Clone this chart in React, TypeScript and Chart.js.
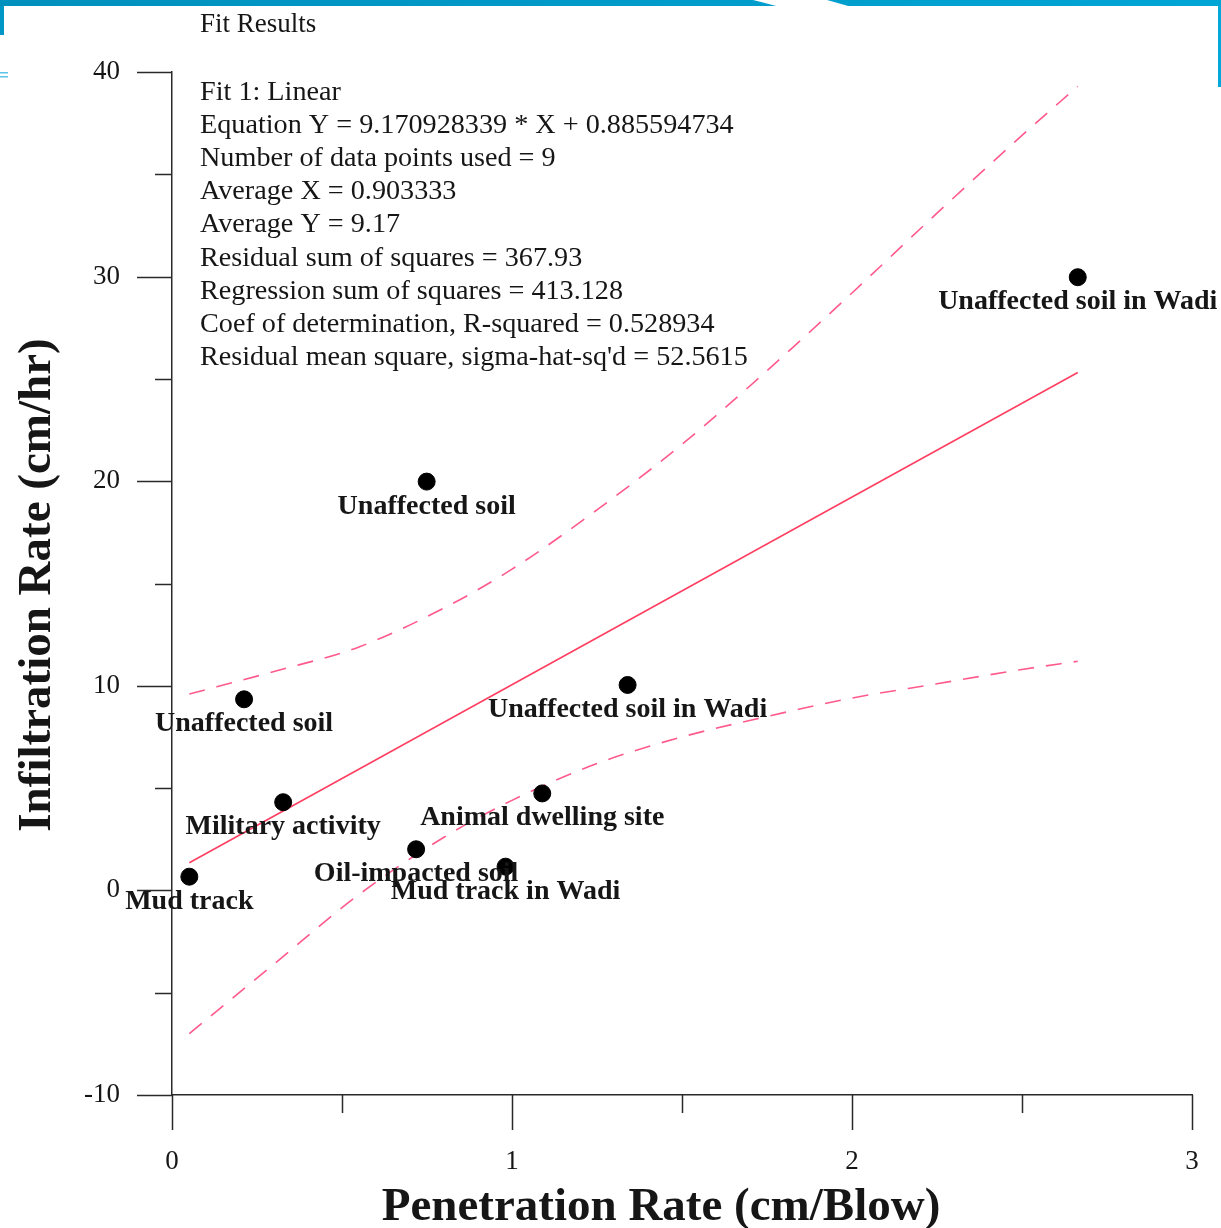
import React, { useEffect, useRef } from "react";
import { Chart, registerables } from "chart.js";

Chart.register(...registerables);

// ---- data ----
const pointX = [0.051, 0.212, 0.327, 0.718, 0.981, 1.089, 0.749, 1.34, 2.664];
const pointY = [0.67, 9.34, 4.31, 2.01, 1.16, 4.74, 19.98, 10.04, 29.97];
const pointLabels = [
  "Mud track",
  "Unaffected soil",
  "Military activity",
  "Oil-impacted soil",
  "Mud track in Wadi",
  "Animal dwelling site",
  "Unaffected soil",
  "Unaffected soil in Wadi",
  "Unaffected soil in Wadi",
];

const fitX = [0.051, 2.664];
const fitY = [1.35, 25.31];

const bandX = [0.051, 0.3, 0.55, 0.8, 1.0, 1.25, 1.5, 1.75, 2.0, 2.25, 2.5, 2.664];
const upperY = [9.6, 10.7, 11.9, 13.8, 15.7, 18.6, 21.8, 25.4, 29.2, 33.1, 36.9, 39.3];
const lowerY = [-7.0, -3.6, -0.2, 2.6, 4.4, 6.2, 7.5, 8.5, 9.4, 10.1, 10.8, 11.2];

const xTickValues = [0, 0.5, 1, 1.5, 2, 2.5, 3];
const yTickValues = [-10, -5, 0, 5, 10, 15, 20, 25, 30, 35, 40];

const fitTitle = "Fit Results";
const fitLines = [
  "Fit 1: Linear",
  "Equation Y = 9.170928339 * X + 0.885594734",
  "Number of data points used = 9",
  "Average X = 0.903333",
  "Average Y = 9.17",
  "Residual sum of squares = 367.93",
  "Regression sum of squares = 413.128",
  "Coef of determination, R-squared = 0.528934",
  "Residual mean square, sigma-hat-sq'd = 52.5615",
];

const xTitle = "Penetration Rate (cm/Blow)";
const yTitle = "Infiltration Rate (cm/hr)";

const SERIF = '"Liberation Serif", "Times New Roman", serif';
const INK = "#161616";

function zip(xs: number[], ys: number[]) {
  return xs.map((x, i) => ({ x, y: ys[i] }));
}

const decorPlugin = {
  id: "decor",
  afterDatasetsDraw(chart: any) {
    const ctx = chart.ctx as CanvasRenderingContext2D;
    const meta = chart.getDatasetMeta(0);
    ctx.save();
    ctx.fillStyle = INK;
    ctx.font = `bold 28px ${SERIF}`;
    ctx.textAlign = "center";
    ctx.textBaseline = "alphabetic";
    meta.data.forEach((el: any, i: number) => {
      ctx.fillText(pointLabels[i], el.x, el.y + 32);
    });
    ctx.restore();
  },
  afterDraw(chart: any) {
    const ctx = chart.ctx as CanvasRenderingContext2D;
    const xs = chart.scales.x;
    const ys = chart.scales.y;
    const left = chart.chartArea.left;
    const bottom = chart.chartArea.bottom;
    ctx.save();
    ctx.strokeStyle = "#2a2a2a";
    ctx.lineWidth = 1.5;
    ctx.beginPath();
    yTickValues.forEach((v) => {
      const p = Math.round(ys.getPixelForValue(v)) + 0.5;
      const len = v % 10 === 0 ? 35 : 17;
      ctx.moveTo(left - len, p);
      ctx.lineTo(left, p);
    });
    xTickValues.forEach((v) => {
      const p = Math.round(xs.getPixelForValue(v)) + 0.5;
      const len = Number.isInteger(v) ? 35 : 18;
      ctx.moveTo(p, bottom);
      ctx.lineTo(p, bottom + len);
    });
    ctx.stroke();

    // fit results text
    ctx.fillStyle = INK;
    ctx.textAlign = "left";
    ctx.textBaseline = "alphabetic";
    ctx.font = `27px ${SERIF}`;
    ctx.fillText(fitTitle, 200, 32);
    ctx.font = `28.2px ${SERIF}`;
    fitLines.forEach((t, i) => {
      ctx.fillText(t, 200, 100 + i * 33.1);
    });

    // axis titles
    ctx.font = `bold 47px ${SERIF}`;
    ctx.textAlign = "center";
    ctx.fillText(xTitle, 661, 1220);
    ctx.save();
    ctx.translate(50, 585);
    ctx.rotate(-Math.PI / 2);
    ctx.fillText(yTitle, 0, 0);
    ctx.restore();
    ctx.restore();
  },
};

function ChartCanvas() {
  const ref = useRef<HTMLCanvasElement | null>(null);
  useEffect(() => {
    let chart: Chart | null = null;
    let cancelled = false;
    const build = () => {
      if (cancelled || !ref.current) return;
      chart = new Chart(ref.current, {
        type: "scatter",
        data: {
          datasets: [
            {
              label: "Samples",
              data: zip(pointX, pointY),
              backgroundColor: "#000000",
              borderColor: "#000000",
              pointRadius: 8.5,
              pointHoverRadius: 8.5,
              showLine: false,
            },
            {
              label: "Fit",
              type: "line",
              data: zip(fitX, fitY),
              borderColor: "#ff3f62",
              borderWidth: 1.6,
              pointRadius: 0,
              fill: false,
            },
            {
              label: "Upper 95%",
              type: "line",
              data: zip(bandX, upperY),
              borderColor: "#ff5a8c",
              borderWidth: 1.6,
              borderDash: [16, 12],
              pointRadius: 0,
              cubicInterpolationMode: "monotone",
              fill: false,
            },
            {
              label: "Lower 95%",
              type: "line",
              data: zip(bandX, lowerY),
              borderColor: "#ff5a8c",
              borderWidth: 1.6,
              borderDash: [16, 12],
              pointRadius: 0,
              cubicInterpolationMode: "monotone",
              fill: false,
            },
          ] as any,
        },
        options: {
          animation: false,
          responsive: false,
          maintainAspectRatio: false,
          events: [],
          layout: { padding: { top: 72, right: 29, left: 0, bottom: 0 } },
          plugins: {
            legend: { display: false },
            tooltip: { enabled: false },
            title: { display: false },
          },
          scales: {
            x: {
              type: "linear",
              min: 0,
              max: 3,
              afterFit: (s: any) => {
                s.height = 133;
                s.paddingLeft = 0;
                s.paddingRight = 0;
              },
              afterBuildTicks: (s: any) => {
                s.ticks = xTickValues.map((v) => ({ value: v }));
              },
              grid: { display: false, drawTicks: false },
              border: { display: true, color: "#2a2a2a", width: 1.5 },
              ticks: {
                padding: 51,
                color: INK,
                font: { family: SERIF, size: 27 },
                callback: (v: any) => (Number.isInteger(Number(v)) ? String(v) : ""),
              },
            },
            y: {
              type: "linear",
              min: -10,
              max: 40,
              afterFit: (s: any) => {
                s.width = 172;
                s.paddingTop = 0;
                s.paddingBottom = 0;
              },
              afterBuildTicks: (s: any) => {
                s.ticks = yTickValues.map((v) => ({ value: v }));
              },
              grid: { display: false, drawTicks: false },
              border: { display: true, color: "#2a2a2a", width: 1.5 },
              ticks: {
                padding: 52,
                color: INK,
                font: { family: SERIF, size: 27 },
                callback: (v: any) => (Number(v) % 10 === 0 ? String(v) : ""),
              },
            },
          },
        } as any,
        plugins: [decorPlugin],
      });
    };
    const fonts: any = (document as any).fonts;
    if (fonts && fonts.load) {
      Promise.all([
        fonts.load(`27px "Liberation Serif"`),
        fonts.load(`bold 28px "Liberation Serif"`),
      ])
        .catch(() => null)
        .then(build);
    } else {
      build();
    }
    return () => {
      cancelled = true;
      if (chart) chart.destroy();
    };
  }, []);
  return (
    <canvas
      ref={ref}
      width={1221}
      height={1228}
      style={{ position: "absolute", left: 0, top: 0, width: 1221, height: 1228 }}
    />
  );
}

export default function App() {
  useEffect(() => {
    document.body.style.margin = "0";
    document.body.style.background = "#ffffff";
    document.body.style.overflow = "hidden";
  }, []);
  return (
    <div style={{ position: "relative", width: 1221, height: 1228, background: "#fff", overflow: "hidden" }}>
      <svg
        width={1221}
        height={1228}
        style={{ position: "absolute", left: 0, top: 0 }}
      >
        <defs>
          <linearGradient id="bar" x1="0" x2="1" y1="0" y2="0">
            <stop offset="0" stopColor="#0090bd" />
            <stop offset="1" stopColor="#00a5d5" />
          </linearGradient>
        </defs>
        <rect x={0} y={0} width={1221} height={6} fill="url(#bar)" />
        <polygon points="753,0 827,0 850,6.5 778,6.5" fill="#ffffff" />
        <rect x={0} y={6} width={4} height={29} fill="#0096c6" />
        <rect x={1218} y={6} width={3} height={81} fill="#00a8dc" />
        <rect x={0} y={72} width={8} height={1.5} fill="#5cc6ea" />
        <rect x={0} y={76} width={8} height={1.5} fill="#5cc6ea" />
      </svg>
      <ChartCanvas />
    </div>
  );
}
